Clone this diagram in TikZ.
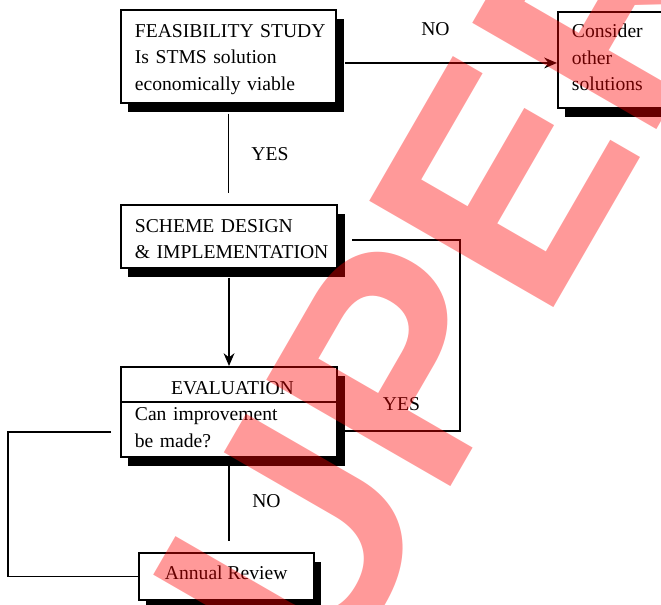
\documentclass[tikz,border=0pt]{standalone}
\usepackage{fontspec}
\setmainfont{Liberation Serif}
\newfontfamily\stampfont{Liberation Sans}
\usetikzlibrary{arrows.meta,shadows}

\tikzset{
  box/.style={draw, line width=1pt, fill=white, anchor=north west, inner sep=0pt,
    drop shadow={shadow xshift=3.8pt, shadow yshift=-4.8pt, fill=black, opacity=1}},
  boxtext/.style={anchor=base west, inner sep=0pt, text width=105pt, align=left,
    font={\fontsize{10}{13.6}\selectfont}},
  answer/.style={inner sep=0pt, font={\fontsize{10}{12}\selectfont}}
}

\begin{document}
\begin{tikzpicture}[x=.51pt, y=-.51pt, line width=.95pt, >={Stealth[length=6.5pt, width=5.5pt]}]

\useasboundingbox (0,0) rectangle (661,604);

\node [box, minimum width=109.7pt, minimum height=47.4pt] (feas) at (120,9) {};
\node [box, minimum width=62.7pt, minimum height=49pt] (other) at (557,11) {};
\node [box, minimum width=110.2pt, minimum height=32.1pt] (scheme) at (120,204) {};
\node [box, minimum width=110.2pt, minimum height=45.9pt] (eval) at (120,366) {};
\node [box, minimum width=89.3pt, minimum height=24pt] (review) at (137.7,552) {};

\draw [line width=1pt] ([yshift=-18.4pt]eval.north west) -- ([yshift=-18.4pt]eval.north east);

\node [boxtext] (feastext) at ([shift={(14,28)}]feas.north west) {FEASIBILITY STUDY\\Is STMS solution\\economically viable};
\node [boxtext, text width=60pt] (othertext) at ([shift={(14,26.6)}]other.north west) {Consider\\other\\solutions};
\node [boxtext] (schemetext) at ([shift={(14,28.3)}]scheme.north west) {SCHEME DESIGN\\\& IMPLEMENTATION};
\node [answer, anchor=base] (evaltitle) at ([shift={(3.5,28)}]eval.north) {EVALUATION};
\node [boxtext] (evaltext) at ([shift={(14,54.7)}]eval.north west) {Can improvement\\be made?};
\node [answer, anchor=base] (reviewtext) at ([shift={(0,27.3)}]review.north) {Annual Review};

\coordinate (noout) at ([shift={(8,6.5)}]feas.east);
\draw [->] (noout) -- (noout -| other.west);
\node [answer] (noa) at (435.5,29) {NO};

\coordinate (yesdown) at ([yshift=-5pt]feas.south);
\coordinate (schemein) at ([yshift=5.6pt]scheme.north);
\draw (yesdown) -- (yesdown |- schemein);
\node [answer] (yesa) at (270,154) {YES};

\coordinate (schemeout) at ([yshift=-4.5pt]scheme.south);
\draw [->] (schemeout) -- (schemeout |- eval.north);

\coordinate (yesout) at ([shift={(14,3.5)}]scheme.east);
\coordinate (yesin) at ([shift={(7,19)}]eval.east);
\draw (yesout) -- ++(108,0) |- (yesin);
\node [answer] (yesb) at (401.5,404) {YES};

\coordinate (loopout) at ([shift={(-9,20)}]eval.west);
\draw (loopout) -- ++(-103,0) |- (review.west);

\coordinate (nobout) at ([yshift=-3.6pt]eval.south);
\coordinate (reviewin) at ([yshift=5.6pt]review.north);
\draw (nobout) -- (nobout |- reviewin);
\node [answer] (nob) at (266.5,501) {NO};

\node [rotate=60, anchor=base west, inner sep=0pt, text=red, text opacity=.4,
  font={\stampfont\bfseries\fontsize{157.6}{160}\selectfont}] (stamp) at (225,877) {SUPERSEDED};

\end{tikzpicture}
\end{document}
